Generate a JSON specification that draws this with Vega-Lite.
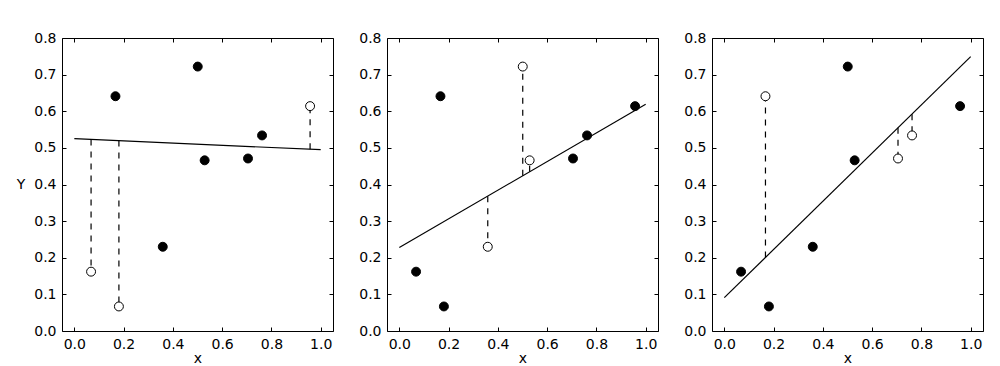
{
  "$schema": "https://vega.github.io/schema/vega-lite/v6.json",
  "padding": {"left": 15, "top": 30, "right": 5, "bottom": 5},
  "background": "white",
  "config": {
    "view": {"stroke": "black", "strokeWidth": 1},
    "font": "DejaVu Sans",
    "axis": {
      "labelFont": "DejaVu Sans", "labelFontSize": 14, "labelColor": "black",
      "titleFont": "DejaVu Sans", "titleFontSize": 14, "titleFontWeight": "normal", "titleColor": "black",
      "grid": false, "domain": false, "tickColor": "black", "tickSize": -4, "tickWidth": 1,
      "labelPadding": 10
    }
  },
  "datasets": {
    "fits": [
      {"panel": 1, "x": 0, "y": 0.525}, {"panel": 1, "x": 1, "y": 0.495},
      {"panel": 2, "x": 0, "y": 0.228}, {"panel": 2, "x": 1, "y": 0.619},
      {"panel": 3, "x": 0, "y": 0.091}, {"panel": 3, "x": 1, "y": 0.749}
    ],
    "pts": [
      {"panel": 1, "x": 0.068, "y": 0.162, "status": "outlier", "fit": 0.523},
      {"panel": 1, "x": 0.167, "y": 0.641, "status": "inlier"},
      {"panel": 1, "x": 0.181, "y": 0.067, "status": "outlier", "fit": 0.520},
      {"panel": 1, "x": 0.359, "y": 0.230, "status": "inlier"},
      {"panel": 1, "x": 0.501, "y": 0.722, "status": "inlier"},
      {"panel": 1, "x": 0.529, "y": 0.466, "status": "inlier"},
      {"panel": 1, "x": 0.705, "y": 0.471, "status": "inlier"},
      {"panel": 1, "x": 0.762, "y": 0.534, "status": "inlier"},
      {"panel": 1, "x": 0.957, "y": 0.614, "status": "outlier", "fit": 0.496},
      {"panel": 2, "x": 0.068, "y": 0.162, "status": "inlier"},
      {"panel": 2, "x": 0.167, "y": 0.641, "status": "inlier"},
      {"panel": 2, "x": 0.181, "y": 0.067, "status": "inlier"},
      {"panel": 2, "x": 0.359, "y": 0.230, "status": "outlier", "fit": 0.368},
      {"panel": 2, "x": 0.501, "y": 0.722, "status": "outlier", "fit": 0.424},
      {"panel": 2, "x": 0.529, "y": 0.466, "status": "outlier", "fit": 0.435},
      {"panel": 2, "x": 0.705, "y": 0.471, "status": "inlier"},
      {"panel": 2, "x": 0.762, "y": 0.534, "status": "inlier"},
      {"panel": 2, "x": 0.957, "y": 0.614, "status": "inlier"},
      {"panel": 3, "x": 0.068, "y": 0.162, "status": "inlier"},
      {"panel": 3, "x": 0.167, "y": 0.641, "status": "outlier", "fit": 0.201},
      {"panel": 3, "x": 0.181, "y": 0.067, "status": "inlier"},
      {"panel": 3, "x": 0.359, "y": 0.230, "status": "inlier"},
      {"panel": 3, "x": 0.501, "y": 0.722, "status": "inlier"},
      {"panel": 3, "x": 0.529, "y": 0.466, "status": "inlier"},
      {"panel": 3, "x": 0.705, "y": 0.471, "status": "outlier", "fit": 0.555},
      {"panel": 3, "x": 0.762, "y": 0.534, "status": "outlier", "fit": 0.592},
      {"panel": 3, "x": 0.957, "y": 0.614, "status": "inlier"}
    ]
  },
  "spacing": 54,
  "bounds": "flush",
  "hconcat": [
    {
      "width": 271, "height": 293,
      "resolve": {"axis": {"x": "independent", "y": "independent"}},
      "layer": [
        {
          "data": {"name": "fits"},
          "transform": [{"filter": "datum.panel == 1"}],
          "mark": {"type": "line", "color": "black", "strokeWidth": 1.2},
          "encoding": {
            "x": {"field": "x", "type": "quantitative", "scale": {"domain": [-0.05, 1.05], "nice": false, "zero": false}, "axis": {"orient": "bottom", "values": [0, 0.2, 0.4, 0.6, 0.8, 1.0], "format": ".1f", "title": "x", "titlePadding": 0}},
            "y": {"field": "y", "type": "quantitative", "scale": {"domain": [0, 0.8], "nice": false, "zero": false}, "axis": {"orient": "left", "values": [0, 0.1, 0.2, 0.3, 0.4, 0.5, 0.6, 0.7, 0.8], "format": ".1f", "title": "Y", "titleAngle": 0, "titleAlign": "right", "titleBaseline": "middle", "titlePadding": 9}}
          }
        },
        {
          "data": {"name": "pts"},
          "transform": [{"filter": "datum.panel == 1 && datum.status == 'outlier'"}],
          "mark": {"type": "rule", "color": "black", "strokeWidth": 1.2, "strokeDash": [6, 6]},
          "encoding": {
            "x": {"field": "x", "type": "quantitative", "scale": {"domain": [-0.05, 1.05], "nice": false, "zero": false}, "axis": {"orient": "top", "values": [0, 0.2, 0.4, 0.6, 0.8, 1.0], "labels": false, "title": null}},
            "y": {"field": "fit", "type": "quantitative", "scale": {"domain": [0, 0.8], "nice": false, "zero": false}, "axis": {"orient": "right", "values": [0, 0.1, 0.2, 0.3, 0.4, 0.5, 0.6, 0.7, 0.8], "labels": false, "title": null}},
            "y2": {"field": "y"}
          }
        },
        {
          "data": {"name": "pts"},
          "transform": [{"filter": "datum.panel == 1"}],
          "mark": {"type": "point", "filled": true, "stroke": "black", "strokeWidth": 1, "size": 80, "opacity": 1},
          "encoding": {
            "x": {"field": "x", "type": "quantitative", "scale": {"domain": [-0.05, 1.05], "nice": false, "zero": false}, "axis": null},
            "y": {"field": "y", "type": "quantitative", "scale": {"domain": [0, 0.8], "nice": false, "zero": false}, "axis": null},
            "fill": {"field": "status", "type": "nominal", "scale": {"domain": ["inlier", "outlier"], "range": ["black", "white"]}, "legend": null}
          }
        }
      ]
    },
    {
      "width": 271, "height": 293,
      "resolve": {"axis": {"x": "independent", "y": "independent"}},
      "layer": [
        {
          "data": {"name": "fits"},
          "transform": [{"filter": "datum.panel == 2"}],
          "mark": {"type": "line", "color": "black", "strokeWidth": 1.2},
          "encoding": {
            "x": {"field": "x", "type": "quantitative", "scale": {"domain": [-0.05, 1.05], "nice": false, "zero": false}, "axis": {"orient": "bottom", "values": [0, 0.2, 0.4, 0.6, 0.8, 1.0], "format": ".1f", "title": "x", "titlePadding": 0}},
            "y": {"field": "y", "type": "quantitative", "scale": {"domain": [0, 0.8], "nice": false, "zero": false}, "axis": {"orient": "left", "values": [0, 0.1, 0.2, 0.3, 0.4, 0.5, 0.6, 0.7, 0.8], "format": ".1f", "title": null}}
          }
        },
        {
          "data": {"name": "pts"},
          "transform": [{"filter": "datum.panel == 2 && datum.status == 'outlier'"}],
          "mark": {"type": "rule", "color": "black", "strokeWidth": 1.2, "strokeDash": [6, 6]},
          "encoding": {
            "x": {"field": "x", "type": "quantitative", "scale": {"domain": [-0.05, 1.05], "nice": false, "zero": false}, "axis": {"orient": "top", "values": [0, 0.2, 0.4, 0.6, 0.8, 1.0], "labels": false, "title": null}},
            "y": {"field": "fit", "type": "quantitative", "scale": {"domain": [0, 0.8], "nice": false, "zero": false}, "axis": {"orient": "right", "values": [0, 0.1, 0.2, 0.3, 0.4, 0.5, 0.6, 0.7, 0.8], "labels": false, "title": null}},
            "y2": {"field": "y"}
          }
        },
        {
          "data": {"name": "pts"},
          "transform": [{"filter": "datum.panel == 2"}],
          "mark": {"type": "point", "filled": true, "stroke": "black", "strokeWidth": 1, "size": 80, "opacity": 1},
          "encoding": {
            "x": {"field": "x", "type": "quantitative", "scale": {"domain": [-0.05, 1.05], "nice": false, "zero": false}, "axis": null},
            "y": {"field": "y", "type": "quantitative", "scale": {"domain": [0, 0.8], "nice": false, "zero": false}, "axis": null},
            "fill": {"field": "status", "type": "nominal", "scale": {"domain": ["inlier", "outlier"], "range": ["black", "white"]}, "legend": null}
          }
        }
      ]
    },
    {
      "width": 271, "height": 293,
      "resolve": {"axis": {"x": "independent", "y": "independent"}},
      "layer": [
        {
          "data": {"name": "fits"},
          "transform": [{"filter": "datum.panel == 3"}],
          "mark": {"type": "line", "color": "black", "strokeWidth": 1.2},
          "encoding": {
            "x": {"field": "x", "type": "quantitative", "scale": {"domain": [-0.05, 1.05], "nice": false, "zero": false}, "axis": {"orient": "bottom", "values": [0, 0.2, 0.4, 0.6, 0.8, 1.0], "format": ".1f", "title": "x", "titlePadding": 0}},
            "y": {"field": "y", "type": "quantitative", "scale": {"domain": [0, 0.8], "nice": false, "zero": false}, "axis": {"orient": "left", "values": [0, 0.1, 0.2, 0.3, 0.4, 0.5, 0.6, 0.7, 0.8], "format": ".1f", "title": null}}
          }
        },
        {
          "data": {"name": "pts"},
          "transform": [{"filter": "datum.panel == 3 && datum.status == 'outlier'"}],
          "mark": {"type": "rule", "color": "black", "strokeWidth": 1.2, "strokeDash": [6, 6]},
          "encoding": {
            "x": {"field": "x", "type": "quantitative", "scale": {"domain": [-0.05, 1.05], "nice": false, "zero": false}, "axis": {"orient": "top", "values": [0, 0.2, 0.4, 0.6, 0.8, 1.0], "labels": false, "title": null}},
            "y": {"field": "fit", "type": "quantitative", "scale": {"domain": [0, 0.8], "nice": false, "zero": false}, "axis": {"orient": "right", "values": [0, 0.1, 0.2, 0.3, 0.4, 0.5, 0.6, 0.7, 0.8], "labels": false, "title": null}},
            "y2": {"field": "y"}
          }
        },
        {
          "data": {"name": "pts"},
          "transform": [{"filter": "datum.panel == 3"}],
          "mark": {"type": "point", "filled": true, "stroke": "black", "strokeWidth": 1, "size": 80, "opacity": 1},
          "encoding": {
            "x": {"field": "x", "type": "quantitative", "scale": {"domain": [-0.05, 1.05], "nice": false, "zero": false}, "axis": null},
            "y": {"field": "y", "type": "quantitative", "scale": {"domain": [0, 0.8], "nice": false, "zero": false}, "axis": null},
            "fill": {"field": "status", "type": "nominal", "scale": {"domain": ["inlier", "outlier"], "range": ["black", "white"]}, "legend": null}
          }
        }
      ]
    }
  ]
}
